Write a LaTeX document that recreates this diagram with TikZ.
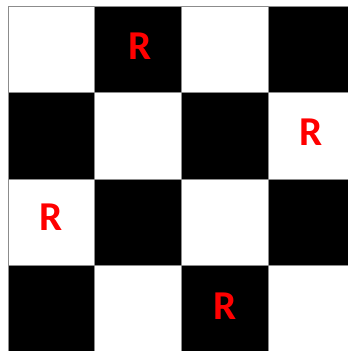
\documentclass[tikz,border=0pt]{standalone}
\usepackage{fontspec}
\setmainfont{Carlito}
\begin{document}
\begin{tikzpicture}[x=1pt,y=-1pt,
  blackcell/.style={fill=black},
  gridline/.style={draw=gray!90,line width=1pt},
  rmark/.style={text=red,font=\fontsize{41}{41}\selectfont\bfseries,inner sep=0pt}]
\useasboundingbox (0,0) rectangle (348,351);
\fill[white] (0,0) rectangle (348,351);
\begin{scope}
\clip (0,0) rectangle (348,351);
\foreach \r in {0,1,2,3}{
  \foreach \c in {0,1,2,3}{
    \pgfmathparse{int(mod(\r+\c,2))}
    \ifnum\pgfmathresult=1
      \fill[blackcell] (8+86.7*\c,6+86.6*\r) rectangle (8+86.7*\c+86.7,6+86.6*\r+86.6);
    \fi
  }
}
\foreach \c in {0,1,2,3,4}{
  \draw[gridline] (8+86.7*\c,6) -- (8+86.7*\c,352.4);
}
\foreach \r in {0,1,2,3,4}{
  \draw[gridline] (8,6+86.6*\r) -- (354.8,6+86.6*\r);
}
\end{scope}
\node[rmark] (r1) at (140,46) {R};
\node[rmark] (r2) at (311,132) {R};
\node[rmark] (r3) at (51.5,217) {R};
\node[rmark] (r4) at (225,306) {R};
\end{tikzpicture}
\end{document}
